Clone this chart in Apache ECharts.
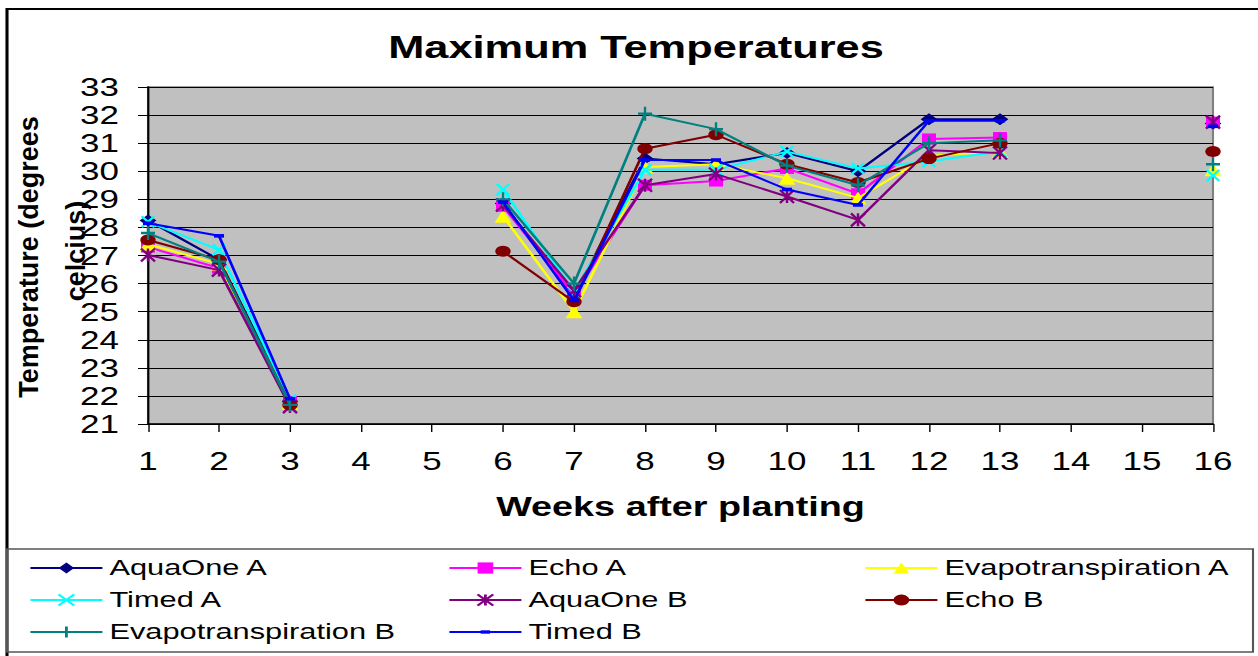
<!DOCTYPE html>
<html><head><meta charset="utf-8">
<script src="https://cdn.jsdelivr.net/npm/echarts@6/dist/echarts.min.js"></script>
<style>
html,body{margin:0;padding:0;background:#fff;overflow:hidden;width:1258px;height:656px;}
#chart{width:899px;height:656px;transform-origin:0 0;}
</style></head><body><div id="chart"></div>
<script>
// ---- data ----
const weeks = ['1','2','3','4','5','6','7','8','9','10','11','12','13','14','15','16'];
const aquaOneA = [28.25, 26.85, 21.8, null, null, 28.85, 25.55, 30.45, 30.25, 30.65, 30.0, 31.85, 31.85, null, null, 31.7];
const echoA    = [27.3, 26.55, 21.8, null, null, 28.75, 25.6, 29.5, 29.65, 30.1, 29.2, 31.15, 31.2, null, null, 31.75];
const evapoA   = [27.4, 26.7, 21.75, null, null, 28.4, 25.0, 30.15, 30.25, 29.75, 29.05, 30.55, 30.7, null, null, 30.05];
const timedA   = [28.2, 27.2, 21.85, null, null, 29.35, 25.7, 30.05, 30.05, 30.7, 30.1, 30.35, 30.7, null, null, 29.85];
const aquaOneB = [27.02, 26.48, 21.62, null, null, 28.8, 25.75, 29.5, 29.9, 29.1, 28.27, 30.75, 30.65, null, null, 31.75];
const echoB    = [27.55, 26.85, 21.68, null, null, 27.15, 25.35, 30.8, 31.3, 30.25, 29.6, 30.45, 31.0, null, null, 30.7];
const evapoB   = [27.8, 26.78, 21.68, null, null, 29.0, 26.0, 32.05, 31.5, 30.2, 29.5, 31.0, 31.1, null, null, 30.25];
const timedB   = [28.15, 27.7, 21.9, null, null, 28.9, 25.4, 30.4, 30.4, 29.35, 28.8, 31.8, 31.8, null, null, 31.6];
const seriesNames = ['AquaOne A','Echo A','Evapotranspiration A','Timed A','AquaOne B','Echo B','Evapotranspiration B','Timed B'];
const seriesValues = [aquaOneA, echoA, evapoA, timedA, aquaOneB, echoB, evapoB, timedB];
const yMin = 21, yMax = 33, yStep = 1;

// ---- styles ----
const styles = [
  {color:'#000080', symbol:'diamond', size:[12,12]},
  {color:'#FF00FF', symbol:'rect', size:[10,11]},
  {color:'#FFFF00', symbol:'triangle', size:[12,13]},
  {color:'#00FFFF', symbol:'path://M0,0L10,10M10,0L0,10', size:[9,11], stroke:true},
  {color:'#800080', symbol:'path://M0,0L10,10M10,0L0,10M5,0L5,10', size:[10,13], stroke:true},
  {color:'#800000', symbol:'circle', size:[11,11]},
  {color:'#008080', symbol:'path://M5,0L5,10M0,5L10,5', size:[10,14], stroke:true},
  {color:'#0000FF', symbol:'path://M0,0M10,10M2,3.5L8,3.5L8,6.5L2,6.5Z', size:[12,12]}
];

const W = 899, S = 1258 / W;   // horizontal stretch of the original picture
const X = v => v / S;
document.getElementById('chart').style.transform = 'scaleX(' + S + ')';

const FONT = 'Liberation Sans, Arial, sans-serif';
const chart = echarts.init(document.getElementById('chart'), null, {renderer:'svg'});

const series = seriesNames.map((n, i) => {
  const st = styles[i];
  return {
    name: n, type: 'line', data: seriesValues[i],
    connectNulls: false, showSymbol: true,
    symbol: st.symbol, symbolSize: st.size,
    lineStyle: {color: st.color, width: 2},
    itemStyle: st.stroke ? {color: st.color, borderColor: st.color, borderWidth: 2}
                         : {color: st.color, borderWidth: 0},
    emphasis: {disabled: true},
    z: 2 + i
  };
});

function legendCol(names, leftPx) {
  return {
    orient: 'vertical', left: X(leftPx), top: 556, padding: 0,
    itemWidth: X(72), itemHeight: 14, itemGap: 8,
    data: names,
    textStyle: {fontFamily: FONT, fontSize: 22, color: '#000', lineHeight: 24},
    selectedMode: false
  };
}

chart.setOption({
  animation: false,
  backgroundColor: '#fff',
  title: {
    text: 'Maximum Temperatures', left: X(629), top: 27, textAlign: 'center',
    textStyle: {fontFamily: FONT, fontSize: 31, fontWeight: 'bold', color: '#000'}
  },
  legend: [
    legendCol(['AquaOne A','Timed A','Evapotranspiration B'], 29),
    legendCol(['Echo A','AquaOne B','Timed B'], 448),
    legendCol(['Evapotranspiration A','Echo B'], 864)
  ],
  grid: {
    left: X(148), right: W - X(1213), top: 87, bottom: 656 - 424,
    show: true, backgroundColor: '#C0C0C0', borderColor: '#808080', borderWidth: 1.5
  },
  xAxis: {
    type: 'category', data: weeks, boundaryGap: false,
    name: 'Weeks after planting', nameLocation: 'middle', nameGap: 69,
    nameTextStyle: {fontFamily: FONT, fontSize: 27, fontWeight: 'bold', color: '#000'},
    axisLine: {lineStyle: {color: '#000', width: 1.5}},
    axisTick: {show: true, inside: false, length: 8, interval: 0, lineStyle: {color: '#000'}},
    axisLabel: {interval: 0, margin: 24, fontFamily: FONT, fontSize: 25, color: '#000'},
    splitLine: {show: false}
  },
  yAxis: {
    type: 'value', min: yMin, max: yMax, interval: yStep,
    axisLine: {show: true, lineStyle: {color: '#000', width: 1.5}},
    axisTick: {show: true, inside: false, length: X(10), lineStyle: {color: '#000'}},
    axisLabel: {margin: X(29), fontFamily: FONT, fontSize: 25, color: '#000'},
    splitLine: {show: true, lineStyle: {color: '#000', width: 1}}
  },
  graphic: [
    {type: 'rect', z: 0, silent: true,
     shape: {x: X(7), y: 9, width: X(1300), height: 700},
     style: {fill: 'none', stroke: '#000', lineWidth: 2.2}},
    {type: 'rect', z: 0, silent: true,
     shape: {x: X(7), y: 549, width: X(1253 - 7), height: 652 - 549},
     style: {fill: 'none', stroke: '#555', lineWidth: 1.5}},
    {type: 'text', silent: true, x: X(29), y: 257, rotation: Math.PI / 2, scaleY: 1 / S,
     style: {text: 'Temperature (degrees', fontFamily: FONT, fontSize: 27, fontWeight: 'bold', fill: '#000',
             align: 'center', verticalAlign: 'middle', textAlign: 'center', textVerticalAlign: 'middle'}},
    {type: 'text', silent: true, x: X(76), y: 251, rotation: Math.PI / 2, scaleY: 1 / S, z: 50,
     style: {text: 'celcius)', fontFamily: FONT, fontSize: 27, fontWeight: 'bold', fill: '#000',
             align: 'center', verticalAlign: 'middle', textAlign: 'center', textVerticalAlign: 'middle'}}
  ],
  series: series
});
</script></body></html>
